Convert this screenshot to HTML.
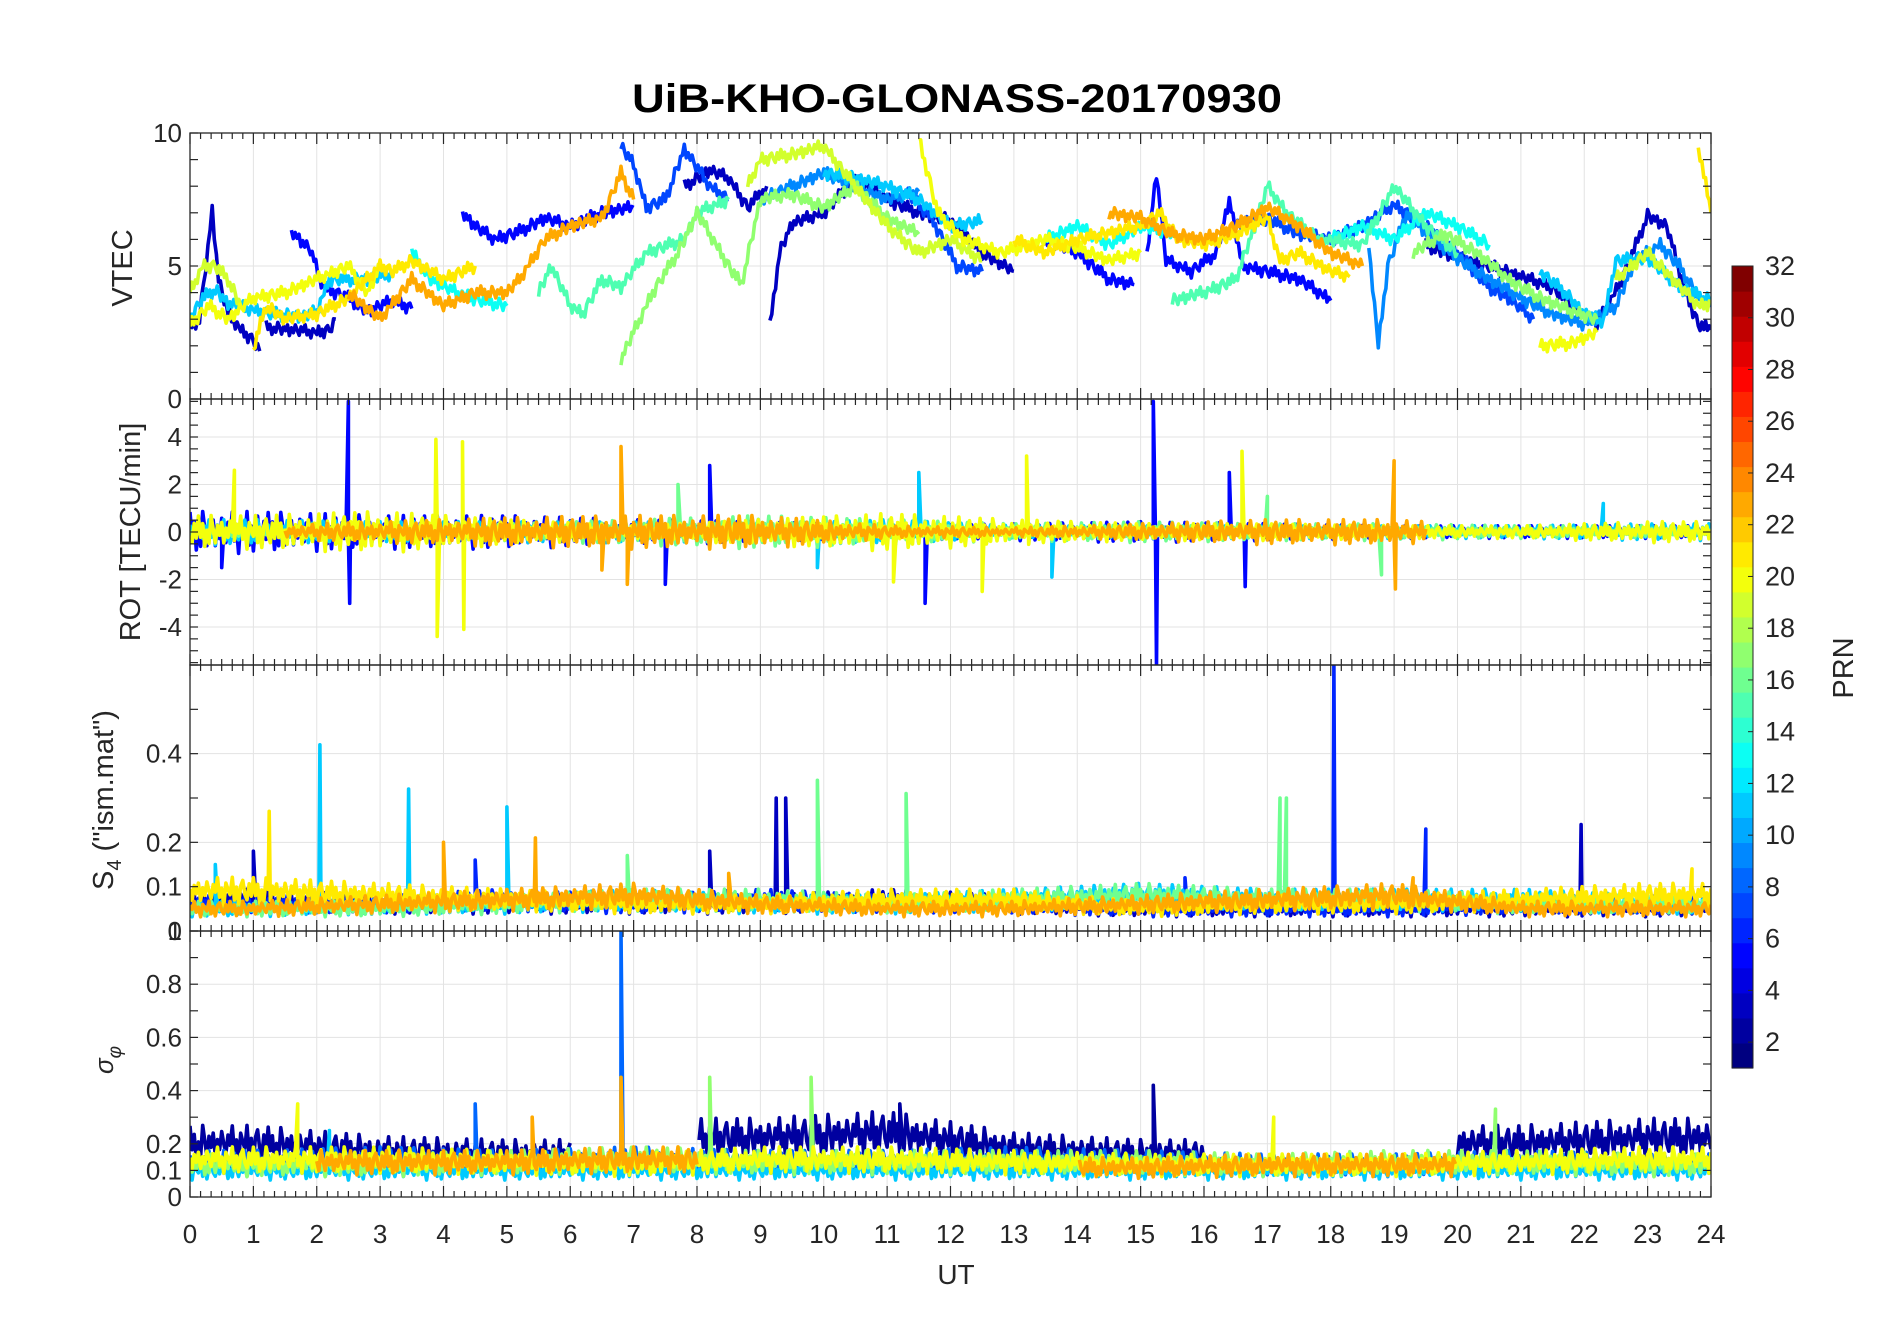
<!DOCTYPE html>
<html><head><meta charset="utf-8"><style>
html,body{margin:0;padding:0;background:#fff;width:1902px;height:1330px;overflow:hidden}
svg{display:block}
text{font-family:"Liberation Sans",sans-serif;fill:#262626}
</style></head><body>
<svg id="fig" width="1902" height="1330" viewBox="0 0 1902 1330" xmlns="http://www.w3.org/2000/svg">
<text x="957" y="112" text-anchor="middle" font-size="40" font-weight="bold" textLength="650" lengthAdjust="spacingAndGlyphs" style="fill:#000">UiB-KHO-GLONASS-20170930</text>
<g id="plots"></g>
<g id="axes"></g>
<g id="cbar"></g>
<text x="956" y="1284" text-anchor="middle" font-size="28">UT</text>
<text transform="translate(132,268) rotate(-90)" text-anchor="middle" font-size="29">VTEC</text>
<text transform="translate(140,532) rotate(-90)" text-anchor="middle" font-size="29">ROT [TECU/min]</text>
<text transform="translate(113,800) rotate(-90)" text-anchor="middle" font-size="29">S<tspan font-size="20" dy="8">4</tspan><tspan dy="-8"> ("ism.mat")</tspan></text>
<text transform="translate(113,1060) rotate(-90)" text-anchor="middle" font-size="26" font-style="italic" font-family="Liberation Serif">σ<tspan font-size="19" dy="8">φ</tspan></text>
<text transform="translate(1853,668) rotate(-90)" text-anchor="middle" font-size="29">PRN</text>
</svg>
<script>
// ---- data ----
const panelNames=["vtec","rot","s4","sigma"];
const hours=[0,1,2,3,4,5,6,7,8,9,10,11,12,13,14,15,16,17,18,19,20,21,22,23,24];
const vtecTicks=[0,5,10];
const rotTicks=[-4,-2,0,2,4];
const s4Ticks=[0,0.1,0.2,0.4];
const sigmaTicks=[0,0.1,0.2,0.4,0.6,0.8,1];
const cbarTicks=[2,4,6,8,10,12,14,16,18,20,22,24,26,28,30,32];

const vtecPrn=[3,5,7,9,11,13,15,17,19,20,21,23];
const vtecSeg=[
 [[[0,2.7],[0.15,3],[0.25,5],[0.35,7.1],[0.45,4.5],[0.6,3.2],[0.8,2.6],[1,2.2],[1.1,1.8]],[[1.2,2.7],[1.6,2.6],[2,2.5],[2.2,2.6],[2.3,3]],[[9.15,2.7],[9.3,5.5],[9.5,6.6],[10,7],[10.5,8.3],[11,7.5],[11.5,7],[12,6.7],[12.5,5.5],[13,4.8]],[[7.8,8],[8.2,8.6],[8.5,8.3],[8.8,7.2],[9.1,8]],[[19.5,5.8],[20,5.3],[20.5,5],[21,4.6],[21.5,4.2],[21.8,3.5],[22.2,2.8],[22.6,4.5],[23,6.9],[23.3,6.5],[23.6,4],[23.8,2.8],[24,2.6]]],
 [[[1.6,6.3],[1.9,5.6],[2.1,4.2],[2.5,3.8],[2.8,3.3],[3.2,3.7],[3.5,3.4]],[[4.3,7],[4.5,6.5],[4.8,6],[5.2,6.3],[5.6,6.8],[6,6.5],[6.5,7],[7,7.2]],[[13.5,6],[14,5.5],[14.5,4.5],[14.9,4.3]],[[15.1,5.5],[15.25,8.5],[15.4,5.2],[15.8,4.8],[16.2,5.5],[16.4,7.5],[16.6,5],[17,4.8],[17.5,4.5],[18,3.7]]],
 [[[6.8,9.5],[7,8.8],[7.2,7.2],[7.5,7.5],[7.8,9.4],[8.2,8],[8.5,7.5]],[[11.3,7.8],[11.7,6.8],[12.1,5],[12.5,4.8]],[[16.5,6.5],[17,6.8],[17.5,6.2],[18,6],[18.5,6.5],[19,7.3],[19.5,6.5],[20,5.5],[20.5,4.2],[20.8,3.8],[21.2,3]]],
 [[[9,7.5],[9.5,8],[10,8.5],[10.5,8],[11,7.5],[11.5,7.8]],[[18.6,5.8],[18.75,2],[18.9,5],[19.2,7],[19.6,6],[20,5.3],[20.5,4.5],[21,3.8],[21.5,3.2],[22,2.8],[22.5,3.5],[22.8,5.2],[23.2,5.8],[23.5,5],[23.8,3.8],[24,3.5]]],
 [[[0,3],[0.2,3.8],[0.4,4.1],[0.6,3.6],[0.9,3.4],[1.3,3.2],[1.8,3.1],[2,3.3],[2.2,4.5],[2.8,4.5],[3.2,4.7]],[[10,8.5],[10.5,8.3],[11,8],[11.5,7.5],[12,6.5],[12.5,6.7]],[[21.3,4.8],[21.7,4],[22,3.2],[22.3,2.9],[22.5,5.2],[23,5.3],[23.5,4.2],[24,3.7]]],
 [[[3.5,5.5],[3.8,4.5],[4.2,4],[4.6,3.7],[5,3.5]],[[13.5,6],[14,6.5],[14.5,5.8],[15,6.5],[15.5,6.2]],[[18,6],[18.5,6.5],[19,6],[19.5,7],[20,6.5],[20.5,5.8]]],
 [[[5.5,4],[5.7,5],[6,3.5],[6.2,3.2],[6.5,4.5],[6.8,4.2],[7.2,5.5],[7.8,6],[8,7],[8.5,7.5]],[[15.5,3.7],[16,4],[16.5,4.5],[16.8,6.5],[17,8],[17.3,7],[17.8,6],[18.5,5.8],[19,8],[19.5,6.5],[20,5.5]]],
 [[[6.8,1.5],[7,2.5],[7.3,4],[7.7,5.5],[8,7],[8.5,5],[8.7,4.3],[9,7.5],[9.5,7.7],[10,7.2],[10.5,8],[11,6.8],[11.5,6.2]],[[19.3,5.5],[19.8,6.2],[20.3,5.5],[20.8,4.5],[21.3,3.8],[21.8,3.3],[22.2,3]]],
 [[[0,4],[0.2,5],[0.4,5],[0.6,4.5],[0.8,3.5]],[[8.8,8],[9,9],[9.5,9.2],[10,9.5],[10.5,8],[11,6.5],[11.5,5.5],[12,6],[12.5,5.2]],[[22.5,4.5],[23,5.5],[23.4,4.5],[23.8,3.5],[24,3.6]]],
 [[[0,2.8],[0.3,3.5],[0.6,3],[1,3.8],[1.5,4],[2,4.5],[2.5,5],[2.8,4],[3,5]],[[11.5,9.8],[11.8,7],[12.2,6],[12.8,5.5],[13.5,6],[14,5.7],[14.5,5.2],[15,5.5]],[[21.3,2],[21.8,2.1],[22.2,2.5]]],
 [[[1,1.9],[1.2,3.5],[1.5,3],[2,3.2],[2.5,3.8],[3,5],[3.2,4.8],[3.5,5.2],[4,4.5],[4.5,5]],[[13,6],[13.5,5.5],[14,6],[15,6.5],[15.3,7],[15.6,6],[16,5.8],[16.5,6.2],[17,6.8],[17.2,5.2],[17.5,5.5],[18,4.8],[18.3,4.6]],[[23.8,9.5],[24,7]]],
 [[[2.5,4],[3,3],[3.5,4.5],[4,3.5],[4.5,4],[5,4],[5.2,4.5],[5.6,6],[6,6.5],[6.5,6.8],[6.8,8.5],[7,7.5]],[[14.5,7],[15,6.8],[15.5,6.2],[16,6],[16.5,6.5],[17,7.2],[17.5,6.5],[18,5.5],[18.5,5]]]
];

const rotPrn=[5,11,16,20,23];
const rotRange=[[0,24],[0,24],[0,24],[0,24],[1.5,19.5]];
const rotAmp=[
 [1.0,0.8,0.8,0.6,0.5,0.3,0.4,0.5,0.4,0.3,0.3,0.3],
 [0.6,0.5,0.5,0.5,0.4,0.6,0.3,0.3,0.3,0.3,0.3,0.4],
 [0.3,0.3,0.4,0.6,0.8,0.6,0.4,0.5,0.4,0.4,0.3,0.3],
 [0.8,1.0,0.6,0.3,0.6,0.9,0.6,0.4,0.4,0.3,0.3,0.5],
 [0.3,0.5,0.7,0.8,0.8,0.3,0.2,0.4,0.6,0.6,0.2,0.2]];
const rotSpikes=[
 [[2.5,5.5],[2.52,-3],[15.2,5.5],[15.25,-5.6],[16.4,2.5],[16.65,-2.3],[11.6,-3],[7.5,-2.2],[8.2,2.8],[0.5,-1.5]],
 [[11.5,2.5],[13.6,-1.9],[22.3,1.2],[9.9,-1.5]],
 [[7.7,2],[17,1.5],[18.8,-1.8]],
 [[0.7,2.6],[3.9,-4.4],[3.88,3.9],[4.3,3.8],[4.32,-4.1],[13.2,3.2],[12.5,-2.5],[16.6,3.4],[11.1,-2.1]],
 [[6.8,3.6],[6.9,-2.2],[19,3],[19.02,-2.4],[6.5,-1.6]]];

const s4Prn=[3,6,11,16,21,23];
const s4Base=[
 [0.07,0.06,0.06,0.06,0.06,0.07,0.06,0.05,0.05,0.05,0.05,0.05],
 [0.06,0.06,0.07,0.06,0.07,0.06,0.06,0.05,0.05,0.05,0.06,0.06],
 [0.05,0.06,0.06,0.07,0.06,0.06,0.07,0.08,0.07,0.07,0.07,0.06],
 [0.05,0.05,0.06,0.07,0.07,0.06,0.07,0.08,0.07,0.07,0.06,0.06],
 [0.09,0.08,0.07,0.06,0.06,0.07,0.07,0.05,0.06,0.06,0.07,0.08],
 [0.05,0.06,0.07,0.08,0.06,0.05,0.05,0.06,0.07,0.08,0.05,0.05]];
const s4Spikes=[
 [[9.25,0.3],[9.4,0.3],[21.95,0.24],[8.2,0.18],[1,0.18]],
 [[18.05,0.6],[19.5,0.23],[15.7,0.12],[4.5,0.16]],
 [[2.05,0.42],[3.45,0.32],[5,0.28],[0.4,0.15]],
 [[9.9,0.34],[11.3,0.31],[17.2,0.3],[17.3,0.3],[6.9,0.17]],
 [[1.25,0.27],[23.7,0.14]],
 [[4,0.2],[5.45,0.21],[8.5,0.13],[19.3,0.12]]];

const sgPrn=[2,8,11,17,20,23];
const sgBase=[
 [0.2,0.17,0.16,0.0,0.22,0.24,0.18,0.16,0.0,0.0,0.2,0.22],
 [0.13,0.14,0.13,0.14,0.13,0.13,0.14,0.13,0.12,0.12,0.13,0.12],
 [0.1,0.1,0.1,0.1,0.1,0.1,0.1,0.1,0.1,0.1,0.1,0.1],
 [0.12,0.12,0.13,0.14,0.13,0.13,0.13,0.13,0.12,0.13,0.13,0.12],
 [0.14,0.14,0.13,0.12,0.14,0.14,0.13,0.12,0.12,0.12,0.13,0.14],
 [0.0,0.13,0.13,0.14,0.0,0.0,0.0,0.11,0.12,0.12,0.0,0.0]];
const sgSpikes=[
 [[15.2,0.42],[16.4,0.42],[11.2,0.35]],
 [[6.8,1.0],[4.5,0.35]],
 [[2.2,0.25]],
 [[8.2,0.45],[9.8,0.45],[20.6,0.33]],
 [[1.7,0.35],[17.1,0.3]],
 [[6.8,0.45],[5.4,0.3]]];

// ---- layout ----
const X0=190,X1=1711;
const PY=[[133,399],[399,665],[665,931],[931,1197]];
const PR=[[0,10],[-5.6,5.6],[0,0.6],[0,1]];
const NS="http://www.w3.org/2000/svg";
const pat=[1,-0.3,0.5,-1,0.1,-0.6,0.9,0.2,-0.8,0.4,-0.2,0.7,-0.9,0.3,-0.4,0.8,0.0,-0.7,0.6,-0.1,1,-0.5,0.2,-0.9,0.5,0.1,-0.3,0.9,-0.6,0.3,-1,0.4,0.7,-0.2,-0.8,0.6,-0.4];
function xs(t){return X0+(X1-X0)*t/24;}
function ys(p,v){const [a,b]=PR[p];const [y0,y1]=PY[p];return y1-(v-a)/(b-a)*(y1-y0);}
function jet(p){const v=(p-1)/31;const r=Math.min(Math.max(Math.min(4*v-1.5,-4*v+4.5),0),1);const g=Math.min(Math.max(Math.min(4*v-0.5,-4*v+3.5),0),1);const b=Math.min(Math.max(Math.min(4*v+0.5,-4*v+2.5),0),1);return `rgb(${Math.round(r*255)},${Math.round(g*255)},${Math.round(b*255)})`;}
function el(tag,attrs,parent){const e=document.createElementNS(NS,tag);for(const k in attrs)e.setAttribute(k,attrs[k]);parent.appendChild(e);return e;}
const plots=document.getElementById('plots'),axes=document.getElementById('axes');

const defs=el('defs',{},plots);
PY.forEach((py,i)=>{const c=el('clipPath',{id:'clip'+i},defs);el('rect',{x:X0,y:py[0],width:X1-X0,height:py[1]-py[0]},c);});

const tickSets=[vtecTicks,rotTicks,s4Ticks,sigmaTicks];
PY.forEach((py,p)=>{
  const g=el('g',{},plots);
  
  
  hours.forEach(h=>el('line',{x1:xs(h),x2:xs(h),y1:py[0],y2:py[1],stroke:'#e3e3e3','stroke-width':1},g));
  tickSets[p].forEach(v=>el('line',{x1:X0,x2:X1,y1:ys(p,v),y2:ys(p,v),stroke:'#e3e3e3','stroke-width':1},g));
});

function drawPath(p,pts,col,name){
  const d=pts.map((q,i)=>(i?'L':'M')+xs(q[0]).toFixed(1)+','+ys(p,q[1]).toFixed(1)).join('');
  const e=el('path',{d:d,fill:'none',stroke:col,'stroke-width':3.6,'stroke-linejoin':'round','clip-path':`url(#clip${p})`},plots);
  
  
}
// smooth block level; zero blocks stay zero (gaps)
function lvl(arr,t){
  const i=Math.min(11,Math.floor(t/2));
  if(arr[i]<=0) return 0;
  const c=i*2+1; const j=t<c?i-1:i+1;
  if(j<0||j>11||arr[j]<=0) return arr[i];
  const f=Math.abs(t-c)/2;
  return arr[i]*(1-f)+arr[j]*f;
}

vtecSeg.forEach((segs,s)=>{
  segs.forEach((seg,k)=>{
    const pts=[];let n=s*7;
    for(let i=0;i<seg.length-1;i++){
      const [t0,v0]=seg[i],[t1,v1]=seg[i+1];
      const steps=Math.max(1,Math.round((t1-t0)/0.03));
      for(let j=0;j<steps;j++){const f=j/steps;pts.push([t0+(t1-t0)*f,v0+(v1-v0)*f+0.25*pat[(n++)%pat.length]]);}
    }
    pts.push(seg[seg.length-1]);
    drawPath(0,pts,jet(vtecPrn[s]),'vtec-prn'+vtecPrn[s]+'-seg'+k);
  });
});

function noisePanel(p,prns,ranges,levels,spikes,scale,center,tag){
  prns.forEach((prn,s)=>{
    const [a,b]=ranges?ranges[s]:[0,24];
    const sp=spikes[s].slice().sort((u,v)=>u[0]-v[0]);
    let segs=[],cur=[],n=s*11,si=0;
    for(let t=a;t<=b+1e-9;t+=1/30){
      const lv=lvl(levels[s],t);
      while(si<sp.length&&sp[si][0]<=t){cur.push([sp[si][0],sp[si][1]]);si++;}
      if(lv<=0&&!center){if(cur.length>1)segs.push(cur);cur=[];n++;continue;}
      const q=pat[n%pat.length]*(0.6+0.4*Math.abs(pat[(n*3+5)%pat.length]));
      const v=center?lv*q:lv+scale*lv*q;
      cur.push([t,v]);n++;
    }
    if(cur.length>1)segs.push(cur);
    segs.forEach((sg,k)=>drawPath(p,sg,jet(prn),tag+'-prn'+prn+'-seg'+k));
  });
}
noisePanel(1,rotPrn,rotRange,rotAmp,rotSpikes,0,true,'rot');
noisePanel(2,s4Prn,null,s4Base,s4Spikes,0.4,false,'s4');
noisePanel(3,sgPrn,null,sgBase,sgSpikes,0.4,false,'sigma');

const minorY=[[0,10,1],[-5.5,5.5,0.5],[0,0.6,0.1],[0,1,0.1]];
PY.forEach((py,p)=>{
  const g=el('g',{},axes);
  
  
  el('rect',{x:X0,y:py[0],width:X1-X0,height:py[1]-py[0],fill:'none',stroke:'#262626','stroke-width':1.3},g);
  for(let m=0;m<=144;m++){const x=xs(m/6);const L=m%6===0?11:6;
    el('line',{x1:x,x2:x,y1:py[0],y2:py[0]+L,stroke:'#262626','stroke-width':1.2},g);
    el('line',{x1:x,x2:x,y1:py[1],y2:py[1]-L,stroke:'#262626','stroke-width':1.2},g);}
  const [a,b,st]=minorY[p];
  for(let v=a;v<=b+1e-9;v+=st){const y=ys(p,v);
    el('line',{x1:X0,x2:X0+8,y1:y,y2:y,stroke:'#262626','stroke-width':1.2},g);
    el('line',{x1:X1,x2:X1-8,y1:y,y2:y,stroke:'#262626','stroke-width':1.2},g);}
  tickSets[p].forEach(v=>{
    const t=el('text',{x:X0-8,y:ys(p,v)+9,'text-anchor':'end','font-size':26},g);
    
    
    t.textContent=String(v);
  });
});
const xl=el('g',{},axes);


hours.forEach(h=>{const t=el('text',{x:xs(h),y:1243,'text-anchor':'middle','font-size':26},xl);
  
  
  t.textContent=String(h);});

const cb=document.getElementById('cbar');
const CX0=1732,CX1=1753,CY0=266,CY1=1068;
for(let i=0;i<32;i++){
  const h=(CY1-CY0)/32;
  const r=el('rect',{x:CX0,y:CY1-(i+1)*h,width:CX1-CX0,height:h+0.6,fill:jet(i+1)},cb);
  
  
}
el('rect',{x:CX0,y:CY0,width:CX1-CX0,height:CY1-CY0,fill:'none',stroke:'#262626','stroke-width':1},cb);
cbarTicks.forEach(v=>{const y=CY1-(v-1)/31*(CY1-CY0);
  el('line',{x1:CX1-5,x2:CX1,y1:y,y2:y,stroke:'#262626','stroke-width':1},cb);
  const t=el('text',{x:1765,y:y+9,'font-size':27},cb);
  
  
  t.textContent=String(v);});
</script>
</body></html>
